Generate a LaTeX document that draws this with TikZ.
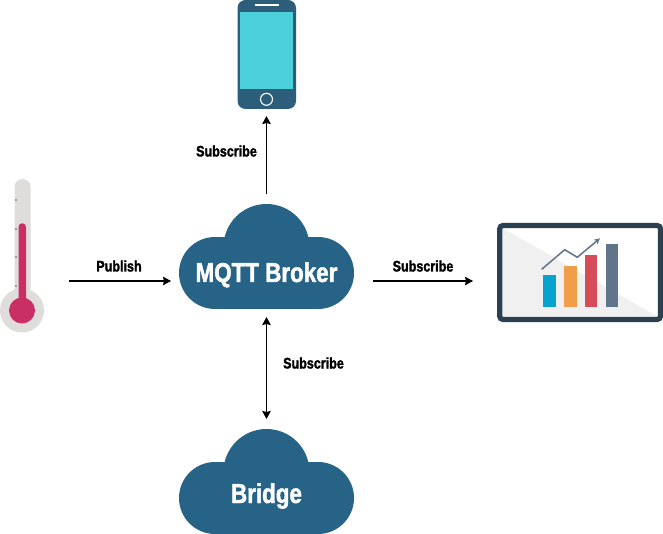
\documentclass[tikz,border=0pt]{standalone}
\usepackage{fontspec}
\setmainfont{Liberation Sans}[FakeStretch=0.82,BoldFont={Liberation Sans Bold},BoldFeatures={FakeStretch=0.82,FakeBold=1.6}]
\usetikzlibrary{arrows.meta}
\definecolor{cloudblue}{HTML}{266387}
\definecolor{phonebody}{HTML}{2C5E7C}
\definecolor{phonescreen}{HTML}{4CD0D9}
\definecolor{thermogrey}{HTML}{DEDDDC}
\definecolor{thermored}{HTML}{C92F64}
\definecolor{tickgrey}{HTML}{9A9A9A}
\definecolor{frame}{HTML}{2B4050}
\definecolor{wedge}{HTML}{F0F0F0}
\definecolor{barblue}{HTML}{05A3CD}
\definecolor{barorange}{HTML}{F19E4B}
\definecolor{barred}{HTML}{D64C58}
\definecolor{barslate}{HTML}{60748C}
\tikzset{
  headtip/.tip={Stealth[length=8pt,width=8.5pt,inset=1pt]},
  link/.style={line width=1.7pt,-headtip},
  linktwo/.style={line width=1.7pt,headtip-headtip},
  flowlabel/.style={font=\fontsize{15.3}{15.3}\selectfont\bfseries,anchor=base,inner sep=0pt},
  cloudlabel/.style={font=\fontsize{27.3}{27.3}\selectfont\bfseries,text=white,anchor=base,inner sep=0pt},
  cloudshape/.pic={
    \fill[cloudblue] (-51.5,0) circle[radius=36];
    \fill[cloudblue] (51.5,0) circle[radius=36];
    \fill[cloudblue] (0,-26) circle[radius=43];
    \fill[cloudblue] (-51.5,-36) rectangle (51.5,36);
  }
}
\begin{document}
\begin{tikzpicture}[x=1pt,y=-1pt]
\useasboundingbox (0,0) rectangle (663,534);
\fill[white] (0,0) rectangle (663,534);

% thermometer
\fill[thermogrey] (14.5,187) arc[start angle=180,end angle=360,radius=8] -- (30.5,300) -- (14.5,300) -- cycle;
\fill[thermogrey] (22,310.5) circle[radius=22];
\foreach \ty in {200.5,229,257.5,286} \fill[tickgrey] (14.5,\ty-1) rectangle (17,\ty+1);
\fill[thermored] (18.5,227) arc[start angle=180,end angle=360,radius=3.75] -- (26,300) -- (18.5,300) -- cycle;
\fill[thermored] (22,310.5) circle[radius=13];
\node[minimum width=44pt,minimum height=154pt,inner sep=0pt,outer sep=0pt] (thermo) at (22,256) {};

% phone
\fill[phonebody,rounded corners=8pt] (237.5,0) rectangle (296,109);
\fill[phonescreen] (240,12) rectangle (293,89);
\fill[white] (254.5,4.3) rectangle (279,6.5);
\draw[white,line width=1.1pt] (266.5,99.3) circle[radius=6];
\node[minimum width=58.5pt,minimum height=109pt,inner sep=0pt,outer sep=0pt] (phone) at (266.5,54.5) {};

% monitor
\fill[white] (499,225) rectangle (661,320);
\fill[wedge] (502.5,228) -- (657.7,316.7) -- (502.5,316.7) -- cycle;
\draw[frame,line width=5.2pt,rounded corners=3pt] (499.8,225.6) rectangle (660.4,319.4);
\fill[barblue] (543.3,275.3) rectangle (555.7,307.3);
\fill[barorange] (564,266) rectangle (576.7,307.3);
\fill[barred] (585,255.3) rectangle (597.3,307.3);
\fill[barslate] (606,243.7) rectangle (618.3,307.3);
\draw[barslate,line width=1.5pt,-{Stealth[length=6pt,width=6pt]}] (541.7,269.3) -- (564.7,249.7) -- (577.3,257.3) -- (600,238.3);
\node[minimum width=166pt,minimum height=99pt,inner sep=0pt,outer sep=0pt] (monitor) at (580,272.5) {};

% clouds
\pic at (266.5,273) {cloudshape};
\node[minimum width=175pt,minimum height=105pt,inner sep=0pt,outer sep=0pt] (broker) at (266.5,256.5) {};
\node[cloudlabel] (brokertext) at (266.5,282) {MQTT Broker};
\coordinate (level) at (266.5,281);

\pic at (266.5,498) {cloudshape};
\node[minimum width=175pt,minimum height=105pt,inner sep=0pt,outer sep=0pt] (bridge) at (266.5,481.5) {};
\node[cloudlabel] (bridgetext) at (266.5,503) {Bridge};

% connectors
\draw[link,shorten <=25pt,shorten >=8pt] (thermo.east |- level) -- (broker.west |- level);
\draw[link,shorten <=19pt,shorten >=24pt] (broker.east |- level) -- (monitor.west |- level);
\draw[link,shorten <=10pt,shorten >=7pt] (broker.north) -- (phone.south);
\draw[linktwo,shorten <=8pt,shorten >=10pt] (broker.south) -- (bridge.north);

% labels
\node[flowlabel] (lpub) at (119,271.5) {Publish};
\node[flowlabel] (lup) at (226.5,156.5) {Subscribe};
\node[flowlabel] (lright) at (423,271.5) {Subscribe};
\node[flowlabel] (ldown) at (313.5,368.5) {Subscribe};
\end{tikzpicture}
\end{document}
